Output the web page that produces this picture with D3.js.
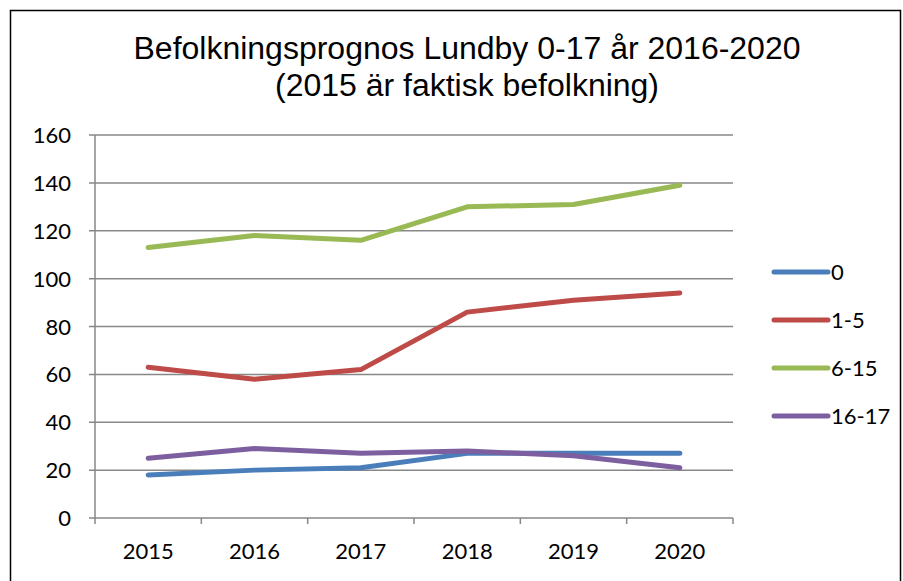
<!DOCTYPE html>
<html>
<head>
<meta charset="utf-8">
<script src="https://cdn.jsdelivr.net/npm/d3@7"></script>
<style>
  body { margin: 0; background: #fff; }
  svg text { fill: #000; }
</style>
</head>
<body>
<div id="chart"></div>
<script>
var years = ["2015", "2016", "2017", "2018", "2019", "2020"];
var seriesNames = ["0", "1-5", "6-15", "16-17"];
var seriesColors = ["#4a7ebb", "#be4b48", "#98b954", "#7d5fa0"];
var age0 = [18, 20, 21, 27, 27, 27];
var age1to5 = [63, 58, 62, 86, 91, 94];
var age6to15 = [113, 118, 116, 130, 131, 139];
var age16to17 = [25, 29, 27, 28, 26, 21];
var yTicks = [0, 20, 40, 60, 80, 100, 120, 140, 160];
var titleLines = ["Befolkningsprognos Lundby 0-17 år 2016-2020", "(2015 är faktisk befolkning)"];

var W = 903, H = 581;
var plot = {left: 95, right: 733, top: 135, bottom: 518};

var svg = d3.select('#chart')
  .append('svg')
    .attr('width', W)
    .attr('height', H);

// outer frame
svg.append('rect')
  .attr('x', 10.5).attr('y', 10.5)
  .attr('width', 890).attr('height', 590)
  .attr('fill', 'none')
  .attr('stroke', '#000')
  .attr('stroke-width', 1.5);

svg.selectAll('.title')
  .data(titleLines).enter()
  .append('text')
    .attr('class', 'title')
    .attr('x', 467)
    .attr('y', function(d, i) { return 59 + i * 37; })
    .attr('text-anchor', 'middle')
    .style('font-family', '"Liberation Sans", Arial, sans-serif')
    .style('font-size', '31px')
    .attr('textLength', function(d, i) { return i == 0 ? 667 : 384; })
    .attr('lengthAdjust', 'spacingAndGlyphs')
    .text(function(d) { return d; });

var x = d3.scaleBand().domain(years).range([plot.left, plot.right]);
var y = d3.scaleLinear().domain([0, 160]).range([plot.bottom, plot.top]);

// gridlines
svg.append('g')
  .selectAll('line')
  .data(yTicks).enter()
  .append('line')
    .attr('x1', plot.left - 6)
    .attr('x2', plot.right)
    .attr('y1', function(d) { return y(d); })
    .attr('y2', function(d) { return y(d); })
    .attr('stroke', '#878787')
    .attr('stroke-width', 1.5);

// y axis line
svg.append('line')
  .attr('x1', plot.left).attr('x2', plot.left)
  .attr('y1', plot.top).attr('y2', plot.bottom)
  .attr('stroke', '#878787').attr('stroke-width', 1.5);

// x ticks at band edges
var edges = years.map(function(d) { return x(d); }).concat([plot.right]);
svg.append('g')
  .selectAll('line')
  .data(edges).enter()
  .append('line')
    .attr('x1', function(d) { return d; })
    .attr('x2', function(d) { return d; })
    .attr('y1', plot.bottom)
    .attr('y2', plot.bottom + 6)
    .attr('stroke', '#878787')
    .attr('stroke-width', 1.5);

var labelFont = 'Lato, "Open Sans", sans-serif';

svg.append('g')
  .selectAll('text')
  .data(yTicks).enter()
  .append('text')
    .attr('x', 71)
    .attr('y', function(d) { return y(d) + 8; })
    .attr('text-anchor', 'end')
    .style('font-family', labelFont)
    .style('font-size', '22px')
    .text(function(d) { return d; });

svg.append('g')
  .selectAll('text')
  .data(years).enter()
  .append('text')
    .attr('x', function(d) { return x(d) + x.bandwidth() / 2; })
    .attr('y', 559)
    .attr('text-anchor', 'middle')
    .style('font-family', labelFont)
    .style('font-size', '22px')
    .text(function(d) { return d; });

var allSeries = [age0, age1to5, age6to15, age16to17];

var line = d3.line()
  .x(function(d, i) { return x(years[i]) + x.bandwidth() / 2; })
  .y(function(d) { return y(d); });

svg.append('g')
  .selectAll('path')
  .data(allSeries).enter()
  .append('path')
    .attr('d', line)
    .attr('fill', 'none')
    .attr('stroke', function(d, i) { return seriesColors[i]; })
    .attr('stroke-width', 5)
    .attr('stroke-linejoin', 'round')
    .attr('stroke-linecap', 'round');

// legend
var legend = svg.append('g')
  .selectAll('g')
  .data(seriesNames).enter()
  .append('g')
    .attr('transform', function(d, i) { return 'translate(774,' + (272 + i * 48) + ')'; });

legend.append('line')
  .attr('x1', 0).attr('x2', 54)
  .attr('stroke', function(d, i) { return seriesColors[i]; })
  .attr('stroke-width', 5)
  .attr('stroke-linecap', 'round');

legend.append('text')
  .attr('x', 57)
  .attr('y', 8)
  .style('font-family', labelFont)
  .style('font-size', '22px')
  .text(function(d) { return d; });
</script>
</body>
</html>
